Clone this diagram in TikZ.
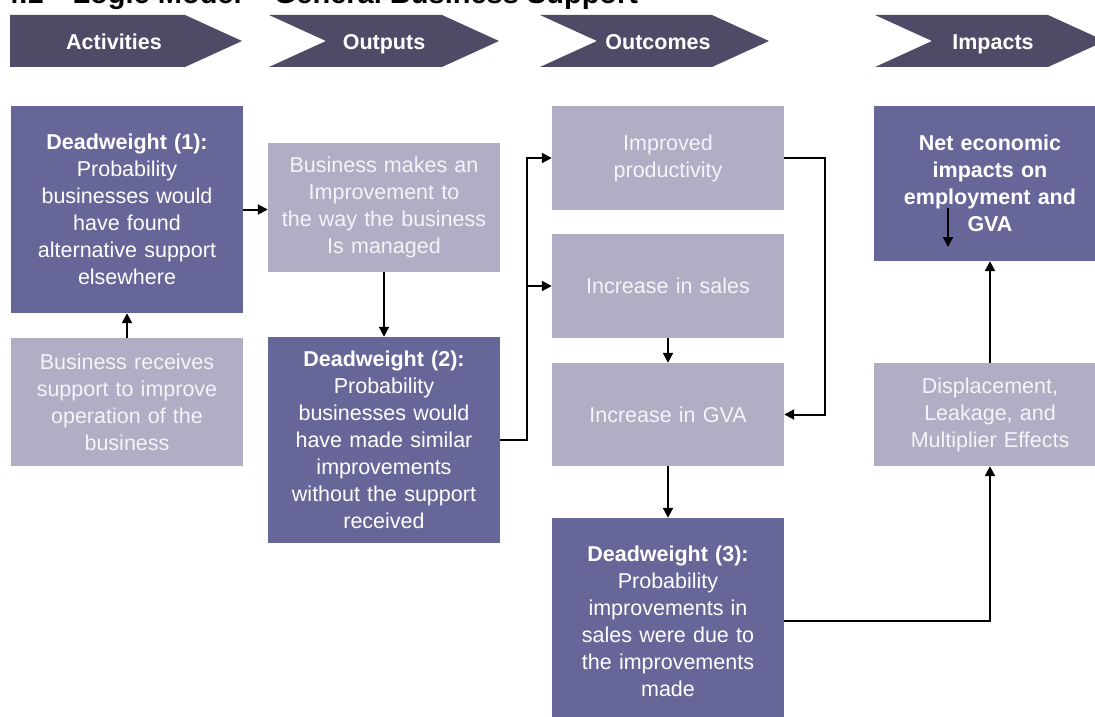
\documentclass[tikz,border=0pt]{standalone}
\usepackage{fontspec}
\setmainfont{Liberation Sans}
\usetikzlibrary{arrows.meta}

\definecolor{stagecol}{RGB}{81,74,102}
\definecolor{darkcol}{RGB}{103,102,153}
\definecolor{lightcol}{RGB}{178,172,196}
\definecolor{paletext}{RGB}{245,244,250}

\tikzset{
  box/.style={inner sep=0pt, minimum width=232pt, text width=224pt, align=center,
    font=\fontsize{21.5}{27}\selectfont},
  darkbox/.style={box, fill=darkcol, text=white},
  lightbox/.style={box, fill=lightcol, text=paletext},
  stage/.style={anchor=base, text=white, font=\bfseries\fontsize{21.5}{26}\selectfont},
  link/.style={line width=2pt, -{Triangle[length=10pt,width=10pt]}},
}

\begin{document}
\begin{tikzpicture}[x=1pt, y=-1pt]
        \useasboundingbox (0,0) rectangle (1095,717);
        \clip (0,0) rectangle (1095,717);

        % 标题
        \node[anchor=base west, inner sep=0pt, font=\bfseries\fontsize{29}{32}\selectfont] (title) at (3,4) {4.1\quad Logic Model -- General Business Support};

        % 阶段箭头
        \fill[stagecol] (10,15) -- (185,15) -- (242,41) -- (185,67) -- (10,67) -- cycle;
        \fill[stagecol] (269,15) -- (442,15) -- (499,41) -- (442,67) -- (269,67) -- (326,41) -- cycle;
        \fill[stagecol] (540,15) -- (712,15) -- (769,41) -- (712,67) -- (540,67) -- (597,41) -- cycle;
        \fill[stagecol] (875,15) -- (1048,15) -- (1105,41) -- (1048,67) -- (875,67) -- (932,41) -- cycle;
        \node[stage] (act) at (114,50) {Activities};
        \node[stage] (out) at (384,50) {Outputs};
        \node[stage] (outc) at (658,50) {Outcomes};
        \node[stage] (imp) at (993,50) {Impacts};

        % Activities
        \node[darkbox, minimum height=207pt] (dw1) at (127,209.5) {\textbf{Deadweight (1):}\\Probability\\businesses would\\have found\\alternative support\\elsewhere};
        \node[lightbox, minimum height=128pt] (recv) at (127,402) {Business receives\\support to improve\\operation of the\\business};

        % Outputs
        \node[lightbox, minimum height=129pt] (makes) at (384,207.5) {Business makes an\\Improvement to\\the way the business\\Is managed};
        \node[darkbox, minimum height=206pt] (dw2) at (384,440) {\textbf{Deadweight (2):}\\Probability\\businesses would\\have made similar\\improvements\\without the support\\received};

        % Outcomes
        \node[lightbox, minimum height=104pt] (prod) at (668,158) {Improved\\productivity};
        \node[lightbox, minimum height=104pt] (sales) at (668,286) {Increase in sales};
        \node[lightbox, minimum height=103pt] (gva) at (668,414.5) {Increase in GVA};
        \node[darkbox, minimum height=206pt] (dw3) at (668,621) {\textbf{Deadweight (3):}\\Probability\\improvements in\\sales were due to\\the improvements\\made};

        % Impacts
        \node[darkbox, minimum height=155pt, font=\bfseries\fontsize{21.5}{27}\selectfont] (net) at (990,183.5) {Net economic\\impacts on\\employment and\\GVA};
        \node[lightbox, minimum height=103pt] (displ) at (990,414.5) {Displacement,\\Leakage, and\\Multiplier Effects};

        % 连线
        \draw[link] (recv.north) -- (dw1.south);
        \draw[link] (dw1.east) -- (dw1.east -| makes.west);
        \draw[link] (makes.south) -- (dw2.north);
        \draw[link] (dw2.east) -- ++(27,0) coordinate (split) |- (prod.west);
        \draw[link] (split |- sales.west) -- (sales.west);
        \draw[line width=2pt] (split) -- (split |- sales.west);
        \draw[link] (sales.south) -- (gva.north);
        \draw[link] (prod.east) -- ++(41,0) |- (gva.east);
        \draw[link] (gva.south) -- (dw3.north);
        \draw[link] (dw3.east) -| (displ.south);
        \draw[link] (displ.north) -- (net.south);

        % 框内的短箭头
        \coordinate (stubtop) at (948,208);
        \coordinate (stubend) at (948,247);
        \draw[link] (stubtop) -- (stubend);
    \end{tikzpicture}
\end{document}
